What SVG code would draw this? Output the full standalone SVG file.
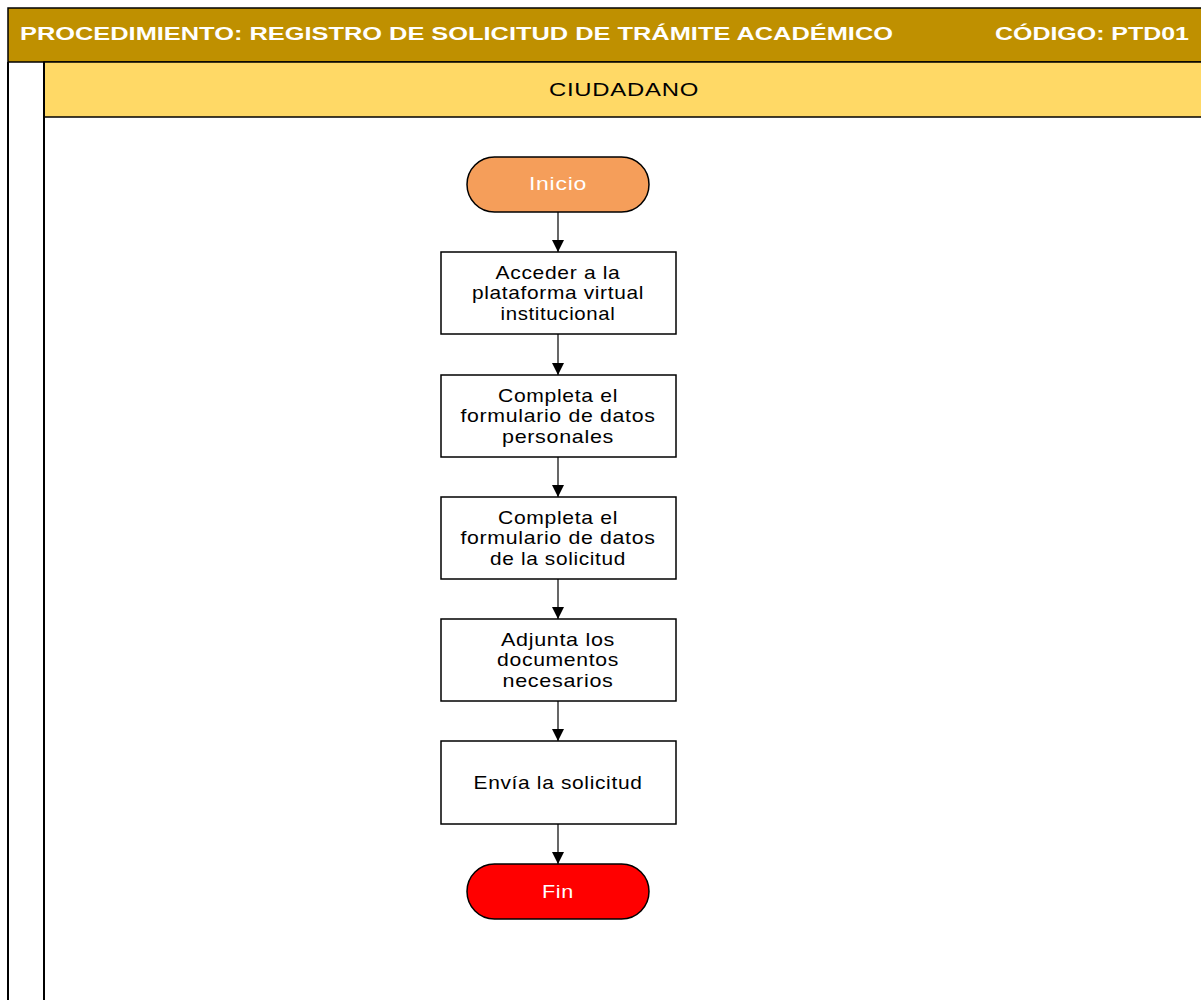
<svg xmlns="http://www.w3.org/2000/svg" width="1201" height="1000" viewBox="0 0 1201 1000">
<defs>
<style>
.t{font-family:"Liberation Sans",Arial,sans-serif;font-size:19px;letter-spacing:0.6px;fill:#000;text-anchor:middle}
.w{fill:#fff}
.h{font-family:"Liberation Sans",Arial,sans-serif;font-size:17.5px;font-weight:bold;fill:#fff}
.box{fill:#fff;stroke:#000;stroke-width:1.5}
.term{stroke:#000;stroke-width:1.5}
.c{stroke:#000;stroke-width:1.2;fill:none;marker-end:url(#a)}
</style>
<marker id="a" viewBox="0 0 12 12" refX="12" refY="6" markerWidth="12" markerHeight="12" markerUnits="userSpaceOnUse" orient="auto">
<path d="M0,0 L12,6 L0,12 Z" fill="#000"/>
</marker>
</defs>
<rect width="1201" height="1000" fill="#fff"/>
<g id="header">
<rect x="8" y="8" width="1200" height="54" fill="#BF9000" stroke="#000" stroke-width="1.5"/>
<text class="h" x="20" y="40" textLength="873" lengthAdjust="spacingAndGlyphs">PROCEDIMIENTO: REGISTRO DE SOLICITUD DE TRÁMITE ACADÉMICO</text>
<text class="h" x="995" y="40" textLength="194" lengthAdjust="spacingAndGlyphs">CÓDIGO: PTD01</text>
</g>
<g id="lane">
<line x1="8" y1="62" x2="8" y2="1000" stroke="#000" stroke-width="2"/>
<rect x="44" y="62" width="1160" height="55" fill="#FFD966" stroke="#000" stroke-width="1.5"/>
<line x1="44" y1="62" x2="44" y2="1000" stroke="#000" stroke-width="2"/>
<text class="t" x="624" y="96" textLength="150" lengthAdjust="spacingAndGlyphs">CIUDADANO</text>
</g>
<g id="connectors">
<line class="c" x1="558" y1="212" x2="558" y2="252"/>
<line class="c" x1="558" y1="334" x2="558" y2="375"/>
<line class="c" x1="558" y1="457" x2="558" y2="497"/>
<line class="c" x1="558" y1="579" x2="558" y2="619"/>
<line class="c" x1="558" y1="701" x2="558" y2="741"/>
<line class="c" x1="558" y1="824" x2="558" y2="864"/>
</g>
<g id="inicio">
<rect class="term" x="467" y="157" width="182" height="55" rx="27.5" fill="#F59E5A"/>
<text class="t w" x="558" y="190" textLength="58" lengthAdjust="spacingAndGlyphs">Inicio</text>
</g>
<g id="n1">
<rect class="box" x="441" y="252" width="235" height="82"/>
<text class="t" x="558" y="278.5" textLength="125" lengthAdjust="spacingAndGlyphs">Acceder a la</text>
<text class="t" x="558" y="299" textLength="172" lengthAdjust="spacingAndGlyphs">plataforma virtual</text>
<text class="t" x="558" y="319.5" textLength="115" lengthAdjust="spacingAndGlyphs">institucional</text>
</g>
<g id="n2">
<rect class="box" x="441" y="375" width="235" height="82"/>
<text class="t" x="558" y="401.5" textLength="120" lengthAdjust="spacingAndGlyphs">Completa el</text>
<text class="t" x="558" y="422" textLength="195" lengthAdjust="spacingAndGlyphs">formulario de datos</text>
<text class="t" x="558" y="442.5" textLength="112" lengthAdjust="spacingAndGlyphs">personales</text>
</g>
<g id="n3">
<rect class="box" x="441" y="497" width="235" height="82"/>
<text class="t" x="558" y="523.5" textLength="120" lengthAdjust="spacingAndGlyphs">Completa el</text>
<text class="t" x="558" y="544" textLength="195" lengthAdjust="spacingAndGlyphs">formulario de datos</text>
<text class="t" x="558" y="564.5" textLength="136" lengthAdjust="spacingAndGlyphs">de la solicitud</text>
</g>
<g id="n4">
<rect class="box" x="441" y="619" width="235" height="82"/>
<text class="t" x="558" y="645.5" textLength="114" lengthAdjust="spacingAndGlyphs">Adjunta los</text>
<text class="t" x="558" y="666" textLength="122" lengthAdjust="spacingAndGlyphs">documentos</text>
<text class="t" x="558" y="686.5" textLength="111" lengthAdjust="spacingAndGlyphs">necesarios</text>
</g>
<g id="n5">
<rect class="box" x="441" y="741" width="235" height="83"/>
<text class="t" x="558" y="789" textLength="169" lengthAdjust="spacingAndGlyphs">Envía la solicitud</text>
</g>
<g id="fin">
<rect class="term" x="467" y="864" width="182" height="55" rx="27.5" fill="#FF0000"/>
<text class="t w" x="558" y="898" textLength="32" lengthAdjust="spacingAndGlyphs">Fin</text>
</g>
</svg>
